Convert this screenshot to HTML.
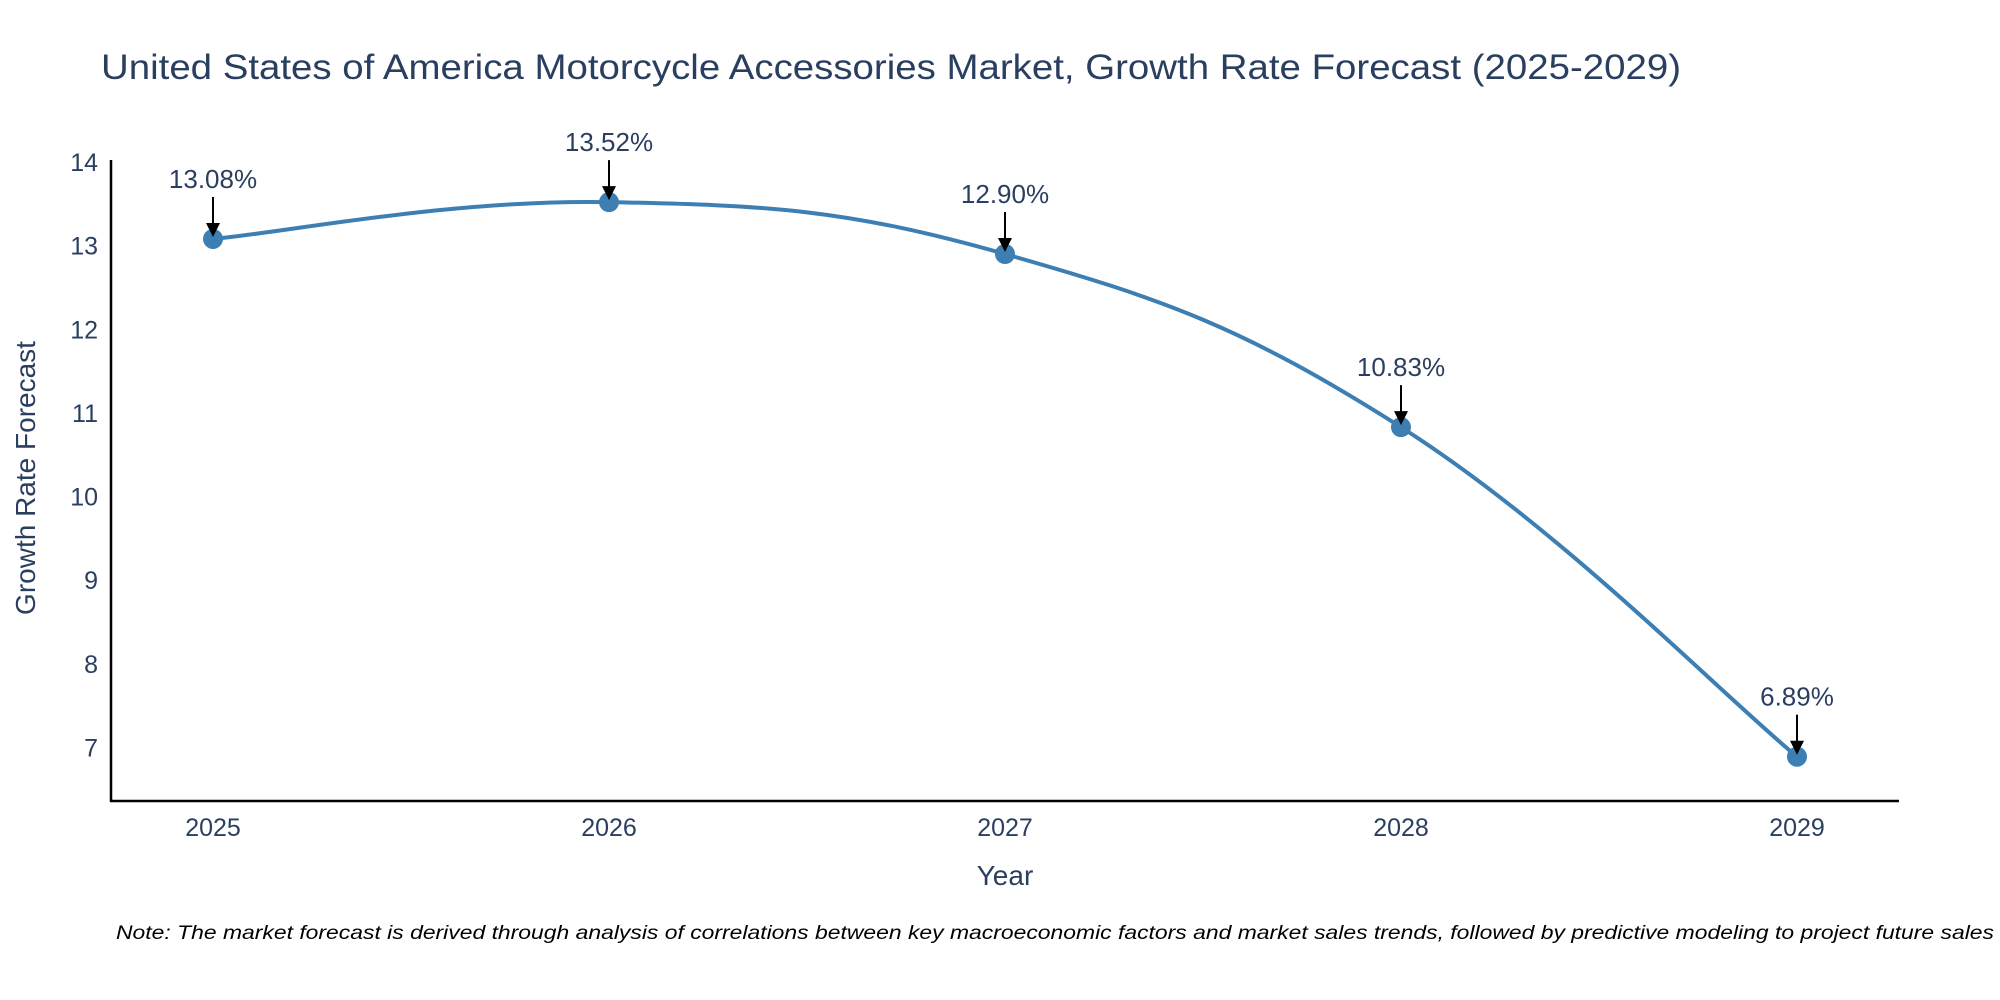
<!DOCTYPE html>
<html><head><meta charset="utf-8"><style>
body{margin:0;background:#fff;}
svg{display:block;font-family:"Liberation Sans","DejaVu Sans",sans-serif;}
</style></head><body>
<svg id="chart" width="2000" height="1000" viewBox="0 0 2000 1000">
<text x="101" y="79" font-size="35" fill="#2a3f5f" textLength="1580" lengthAdjust="spacingAndGlyphs">United States of America Motorcycle Accessories Market, Growth Rate Forecast (2025-2029)</text>
<g id="yticks"></g>
<g id="xticks"></g>
<line x1="111" y1="160" x2="111" y2="802" stroke="#000" stroke-width="2.5"/>
<line x1="110" y1="801" x2="1899" y2="801" stroke="#000" stroke-width="2.5"/>
<text x="1005" y="885" font-size="28" fill="#2a3f5f" text-anchor="middle">Year</text>
<text transform="translate(35,478) rotate(-90)" font-size="28" fill="#2a3f5f" text-anchor="middle">Growth Rate Forecast</text>
<g id="series"></g>
<text x="116" y="939" font-size="19" font-style="italic" fill="#000" textLength="1878" lengthAdjust="spacingAndGlyphs">Note: The market forecast is derived through analysis of correlations between key macroeconomic factors and market sales trends, followed by predictive modeling to project future sales</text>
</svg>
<script>
const years = [2025, 2026, 2027, 2028, 2029];
const values = [13.08, 13.52, 12.90, 10.83, 6.89];
const labels = ["13.08%", "13.52%", "12.90%", "10.83%", "6.89%"];
const yTicks = [7, 8, 9, 10, 11, 12, 13, 14];

const NS = "http://www.w3.org/2000/svg";
const xScale = y => 213 + (y - 2025) * 396;
const yScale = v => 747.5 - (v - 7) * (747.5 - 162) / 7;
function mk(tag, attrs, parent) {
  const e = document.createElementNS(NS, tag);
  for (const k in attrs) e.setAttribute(k, attrs[k]);
  parent.appendChild(e);
  return e;
}
const yt = document.getElementById('yticks');
yTicks.forEach(t => {
  const e = mk('text', {x: 98, y: yScale(t) + 9, 'font-size': 25, fill: '#2a3f5f', 'text-anchor': 'end'}, yt);
  
  
  e.textContent = t;
});
const xt = document.getElementById('xticks');
years.forEach(y => {
  const e = mk('text', {x: xScale(y), y: 836, 'font-size': 25, fill: '#2a3f5f', 'text-anchor': 'middle'}, xt);
  
  
  e.textContent = y;
});
const g = document.getElementById('series');
const pts = years.map((y, i) => [xScale(y), yScale(values[i])]);
let d = `M${pts[0][0]},${pts[0][1]}`;
const s = 0.2;
for (let i = 0; i < pts.length - 1; i++) {
  const p0 = pts[Math.max(0, i - 1)], p1 = pts[i], p2 = pts[i + 1], p3 = pts[Math.min(pts.length - 1, i + 2)];
  const c1 = [p1[0] + (p2[0] - p0[0]) * s, p1[1] + (p2[1] - p0[1]) * s];
  const c2 = [p2[0] - (p3[0] - p1[0]) * s, p2[1] - (p3[1] - p1[1]) * s];
  d += ` C${c1[0]},${c1[1]} ${c2[0]},${c2[1]} ${p2[0]},${p2[1]}`;
}
const line = mk('path', {d: d, fill: 'none', stroke: '#3d7fb3', 'stroke-width': 4}, g);


pts.forEach((p, i) => {
  const c = mk('circle', {cx: p[0], cy: p[1], r: 10, fill: '#3d7fb3'}, g);
  
  
  const a = mk('line', {x1: p[0], y1: p[1] - 42, x2: p[0], y2: p[1] - 14, stroke: '#000', 'stroke-width': 2}, g);
  
  
  const h = mk('polygon', {points: `${p[0]-7},${p[1]-16} ${p[0]+7},${p[1]-16} ${p[0]},${p[1]-2}`, fill: '#000'}, g);
  
  
  const t = mk('text', {x: p[0], y: p[1] - 51, 'font-size': 26, fill: '#2a3f5f', 'text-anchor': 'middle'}, g);
  
  
  t.textContent = labels[i];
});
</script>
</body></html>
